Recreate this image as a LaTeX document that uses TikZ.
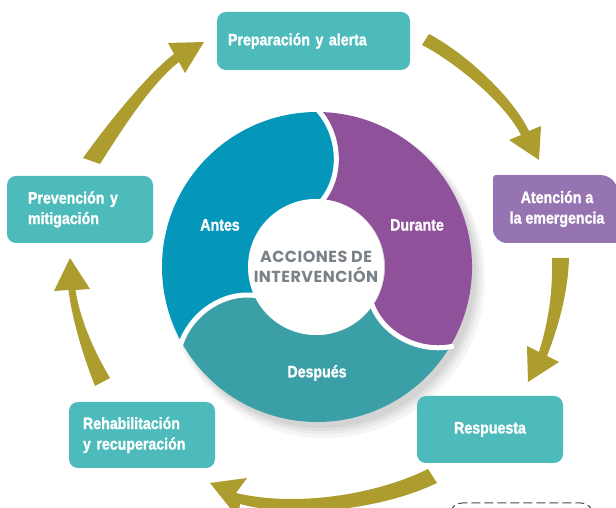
\documentclass[tikz,border=0pt]{standalone}
\usepackage{fontspec}
\usepackage{xcolor}
\newfontfamily\boxfont{Liberation Sans Bold}[FakeStretch=0.86, FakeBold=1.3]
\newfontfamily\hubfont{Poppins}[LetterSpace=3]
\definecolor{boxteal}{RGB}{77,187,188}
\definecolor{antesblue}{RGB}{4,151,186}
\definecolor{durantepurple}{RGB}{143,82,154}
\definecolor{despuesteal}{RGB}{59,159,168}
\definecolor{atenpurple}{RGB}{150,116,178}
\definecolor{arrowgold}{RGB}{172,157,46}
\definecolor{hubgray}{RGB}{122,129,136}

\begin{document}
\begin{tikzpicture}[x=1pt, y=1pt,
    stage/.style={fill=boxteal, rounded corners=9pt, text=white, inner ysep=0pt,
        font=\boxfont\fontsize{16.5}{20.5}\selectfont},
    phase/.style={text=white, font=\boxfont\fontsize{16.5}{20.5}\selectfont},
    cycarrow/.style={fill=arrowgold}]
    \clip (0,0) rectangle (616,508);

    % Soft shadow under the ring
    \fill[black, opacity=0.04] (325,230) circle[radius=160pt];
    \fill[black, opacity=0.04] (324,232) circle[radius=158pt];
    \fill[black, opacity=0.05] (323,233) circle[radius=156pt];
    \fill[black, opacity=0.05] (322,234) circle[radius=154pt];

    % Ring of three phases
    \begin{scope}[shift={(317,241)}]
        \fill[antesblue] (90:155pt) arc[start angle=90, end angle=210, radius=155pt]
            .. controls (200:135pt) and (194:95pt) .. (206:68pt)
            arc[start angle=206, end angle=86, radius=68pt]
            .. controls (74:95pt) and (80:135pt) .. (90:155pt) -- cycle;
        \fill[despuesteal] (210:155pt) arc[start angle=210, end angle=330, radius=155pt]
            .. controls (320:135pt) and (314:95pt) .. (326:68pt)
            arc[start angle=326, end angle=206, radius=68pt]
            .. controls (194:95pt) and (200:135pt) .. (210:155pt) -- cycle;
        \fill[durantepurple] (330:155pt) arc[start angle=330, end angle=450, radius=155pt]
            .. controls (440:135pt) and (434:95pt) .. (446:68pt)
            arc[start angle=446, end angle=326, radius=68pt]
            .. controls (314:95pt) and (320:135pt) .. (330:155pt) -- cycle;
        % White gaps between phases
        \draw[white, line width=5pt] (90:158pt) .. controls (80:135pt) and (74:95pt) .. (86:66pt);
        \draw[white, line width=5pt] (210:158pt) .. controls (200:135pt) and (194:95pt) .. (206:66pt);
        \draw[white, line width=5pt] (330:158pt) .. controls (320:135pt) and (314:95pt) .. (326:66pt);
    \end{scope}

    % Centre and phase labels
    \node[circle, fill=white, minimum size=136pt, inner sep=0pt, align=center, text=hubgray,
        font=\hubfont\bfseries\fontsize{16}{19.5}\selectfont] (hub) at (316,241) {ACCIONES DE\\INTERVENCIÓN};
    \node[phase] (antes) at (220,283) {Antes};
    \node[phase] (durante) at (417,283) {Durante};
    \node[phase] (despues) at (317,135) {Después};

    % Stage boxes
    \node[stage, minimum width=193pt, minimum height=58pt, text width=171pt, inner xsep=11pt, align=left] (prep) at (313.5,467) {Preparación y alerta};
    \node[stage, minimum width=146pt, minimum height=67pt, text width=104pt, inner xsep=21pt, align=left] (prev) at (80,298.5) {Prevención y\\mitigación};
    \node[stage, minimum width=146pt, minimum height=66pt, text width=118pt, inner xsep=14pt, align=left] (rehab) at (142,73) {Rehabilitación\\y recuperación};
    \node[stage, minimum width=146pt, minimum height=67pt] (resp) at (490,78.5) {Respuesta};
    \fill[atenpurple] (493,279) -- (493,330) arc[start angle=180, end angle=90, radius=3pt]
        -- (600,333) arc[start angle=90, end angle=0, radius=18pt]
        -- (618,265) -- (507,265) arc[start angle=270, end angle=180, radius=14pt] -- cycle;
    \node[phase, align=center] (aten) at (557,299) {Atención a\\la emergencia};

    % Arrows between stages
    \coordinate (prevtail) at (83,350);
    \coordinate (preptip) at (204,466);
    \fill[cycarrow] (prevtail) .. controls (103,378) and (145,432) .. (174,454) -- (168,465)
        -- (preptip) -- (185,435) -- (179,446) .. controls (150,424) and (118,372) .. (100,344) -- cycle;
    \coordinate (preptail) at (422,463);
    \coordinate (atentip) at (539,348);
    \fill[cycarrow] (preptail) .. controls (455,446) and (505,405) .. (521,373) -- (509,368)
        -- (atentip) -- (541,382) -- (529,377) .. controls (512,412) and (465,455) .. (429,474) -- cycle;
    \coordinate (atentail) at (552,250);
    \coordinate (resptip) at (528,126);
    \fill[cycarrow] (atentail) .. controls (553,215) and (548,185) .. (539,156) -- (527,162)
        -- (resptip) -- (559,146) -- (547,152) .. controls (558,180) and (568,215) .. (569,250) -- cycle;
    \coordinate (resptail) at (428,39);
    \coordinate (rehabtip) at (210,25);
    \fill[cycarrow] (resptail) .. controls (380,15) and (300,0) .. (236,15) -- (247,30)
        -- (rehabtip) -- (238,-10) -- (240,4) .. controls (300,-12) and (385,0) .. (437,25) -- cycle;
    \coordinate (rehabtail) at (95,122);
    \coordinate (prevtip) at (70,250);
    \fill[cycarrow] (rehabtail) .. controls (82,155) and (72,190) .. (68.5,218) -- (54,217)
        -- (prevtip) -- (90,219) -- (75.5,218) .. controls (80,188) and (95,155) .. (110,130) -- cycle;

    % Dashed frame peeking in at the bottom
    \draw[black!70, line width=1pt, dash pattern=on 9pt off 4pt, rounded corners=12pt] (450,-30) rectangle (593,5);
\end{tikzpicture}
\end{document}
